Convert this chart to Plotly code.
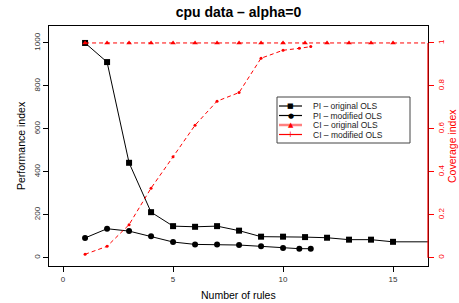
import plotly.graph_objects as go

# ---- data ----
pi_orig_x = [1, 2, 3, 4, 5, 6, 7, 8, 9, 10, 11, 12, 13, 14, 15, 17]
pi_orig_y = [1000, 911, 442, 212, 147, 144, 147, 126, 98, 98, 96, 93, 84, 84, 74, 74]

pi_mod_x = [1, 2, 3, 4, 5, 6, 7, 8, 9, 10, 10.74, 11.26]
pi_mod_y = [92, 135, 124, 100, 73, 62, 62, 59, 53, 45, 42, 42]

ci_orig_x = [1, 2, 3, 4, 5, 6, 7, 8, 9, 10, 11, 12, 13, 14, 15, 17]
ci_orig_y = [1, 1, 1, 1, 1, 1, 1, 1, 1, 1, 1, 1, 1, 1, 1, 1]

ci_mod_x = [1, 2, 3, 4, 5, 6, 7, 8, 9, 10, 10.74, 11.26]
ci_mod_y = [0.016, 0.053, 0.154, 0.324, 0.47, 0.617, 0.729, 0.769, 0.929, 0.966, 0.975, 0.983]

legend_labels = ["PI \u2013 original OLS", "PI \u2013 modified OLS",
                 "CI \u2013 original OLS", "CI \u2013 modified OLS"]
legend_glyphs = ["\u25a0", "\u25cf", "\u25b2", "+"]
legend_colors = ["black", "black", "red", "red"]

x_ticks = [0, 5, 10, 15]
y_ticks = [0, 200, 400, 600, 800, 1000]
y2_ticks = [0, 0.2, 0.4, 0.6, 0.8, 1]
y2_ticklabels = ["0", "0.2", "0.4", "0.6", "0.8", "1"]

title_text = "cpu data \u2013 alpha=0"
x_title = "Number of rules"
y_title = "Performance index"
y2_title = "Coverage index"
FONT = "Liberation Sans, Arial, sans-serif"

fig = go.Figure()

fig.add_trace(go.Scatter(x=pi_orig_x, y=pi_orig_y, mode="lines+markers",
                         line=dict(color="black", width=1),
                         marker=dict(symbol="square", size=6, color="black"),
                         name=legend_labels[0], yaxis="y"))
fig.add_trace(go.Scatter(x=pi_mod_x, y=pi_mod_y, mode="lines+markers",
                         line=dict(color="black", width=1),
                         marker=dict(symbol="circle", size=6, color="black"),
                         name=legend_labels[1], yaxis="y"))
fig.add_trace(go.Scatter(x=ci_orig_x, y=ci_orig_y, mode="lines+markers",
                         line=dict(color="red", width=1, dash="4px,3px"),
                         marker=dict(symbol="triangle-up", size=5, color="red"),
                         name=legend_labels[2], yaxis="y2"))
fig.add_trace(go.Scatter(x=ci_mod_x, y=ci_mod_y, mode="lines+markers",
                         line=dict(color="red", width=1, dash="4px,3px"),
                         marker=dict(symbol="circle", size=3, color="red"),
                         name=legend_labels[3], yaxis="y2"))

# plot area in pixels: x 49..428, y 26..266
W, H = 459, 303
L, R, T, B = 49, 428, 26, 266


def px(xp):
    return (xp - L) / (R - L)


def py(yp):
    return (B - yp) / (B - T)


shapes = []
annotations = []

# red coverage axis segment (0..1) on right side
shapes.append(dict(type="line", xref="paper", yref="y2", x0=1, x1=1, y0=0, y1=1,
                   line=dict(color="red", width=1.2), layer="above"))

# axis titles
annotations.append(dict(text=x_title, xref="paper", yref="paper", x=px(238), y=py(294.5),
                        showarrow=False, xanchor="center", yanchor="middle",
                        font=dict(family=FONT, size=10.5, color="black")))
annotations.append(dict(text=y_title, xref="paper", yref="paper", x=px(20.5), y=py(145.5),
                        showarrow=False, xanchor="center", yanchor="middle", textangle=-90,
                        font=dict(family=FONT, size=10.5, color="black")))
annotations.append(dict(text=y2_title, xref="paper", yref="paper", x=px(452), y=py(146),
                        showarrow=False, xanchor="center", yanchor="middle", textangle=-90,
                        font=dict(family=FONT, size=10.5, color="red")))

# custom compact legend
shapes.append(dict(type="rect", xref="paper", yref="paper",
                   x0=px(277), x1=px(410), y0=py(143), y1=py(97),
                   line=dict(color="#444", width=1), fillcolor="white", layer="above"))
rows = [106, 115.5, 125, 134.5]
for i, lab in enumerate(legend_labels):
    yy = py(rows[i])
    lw = 2.5 if i == 2 else 1.2
    col = "#ff8080" if i == 2 else legend_colors[i]
    shapes.append(dict(type="line", xref="paper", yref="paper",
                       x0=px(279), x1=px(302), y0=yy, y1=yy,
                       line=dict(color=col, width=lw), layer="above"))
    annotations.append(dict(text=legend_glyphs[i], xref="paper", yref="paper",
                            x=px(290.5), y=yy, showarrow=False,
                            xanchor="center", yanchor="middle",
                            font=dict(family="DejaVu Sans", size=7 if i != 3 else 8,
                                      color=legend_colors[i])))
    annotations.append(dict(text=lab, xref="paper", yref="paper",
                            x=px(311), y=yy, showarrow=False,
                            xanchor="left", yanchor="middle",
                            font=dict(family=FONT, size=8.5, color="#222")))

fig.update_layout(
    width=W, height=H,
    margin=dict(l=L, r=W - R, t=T, b=H - B, pad=0, autoexpand=False),
    paper_bgcolor="white", plot_bgcolor="white",
    showlegend=False,
    font=dict(family=FONT, color="black"),
    title=dict(text="<b>" + title_text + "</b>", x=(L + R) / 2 / W, xanchor="center",
               y=1 - 12 / H, yanchor="middle", font=dict(size=14, family=FONT)),
    xaxis=dict(range=[-0.64, 16.59], tickvals=x_ticks, ticks="outside", ticklen=5,
               tickcolor="black", showgrid=False, zeroline=False, automargin=False,
               showline=True, linecolor="black", linewidth=1, mirror=True,
               tickfont=dict(size=8, color="#333")),
    yaxis=dict(range=[-38.6, 1079], tickvals=y_ticks, ticks="outside", ticklen=5,
               tickcolor="black", tickangle=-90, showgrid=False, zeroline=False,
               automargin=False,
               showline=True, linecolor="black", linewidth=1, mirror=True,
               tickfont=dict(size=8, color="#333")),
    yaxis2=dict(range=[-0.0386, 1.079], tickvals=y2_ticks, ticktext=y2_ticklabels,
                overlaying="y", side="right", ticks="outside", ticklen=5,
                tickcolor="red", tickangle=-90, showgrid=False, zeroline=False,
                automargin=False,
                showline=False, tickfont=dict(size=8, color="red")),
    shapes=shapes,
    annotations=annotations,
)

fig.write_html("out.html", config={"displayModeBar": False},
               post_script="document.body.style.margin='0';")
